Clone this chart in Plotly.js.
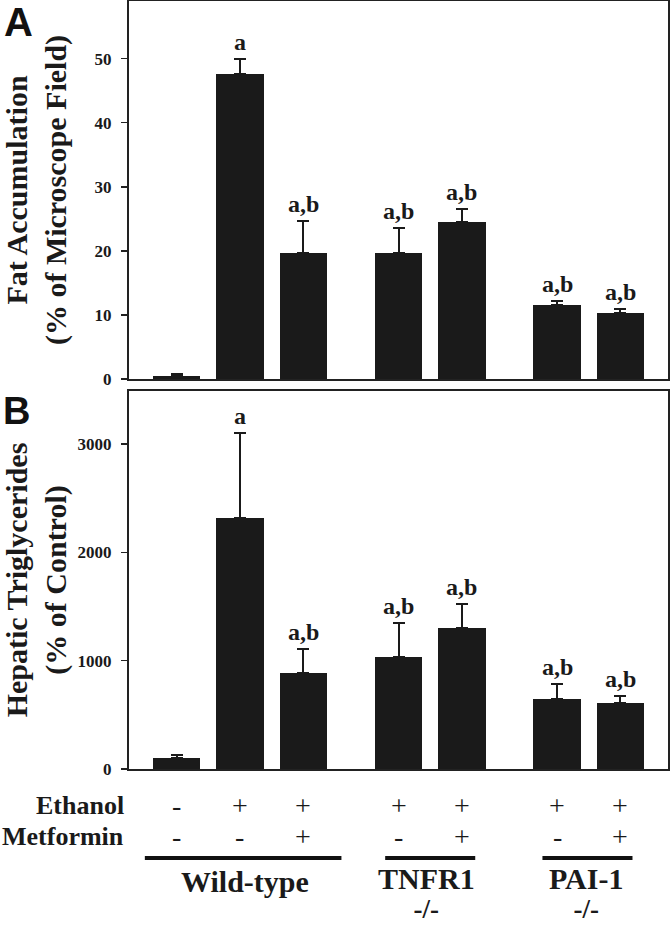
<!DOCTYPE html>
<html><head><meta charset="utf-8">
<script src="https://cdn.plot.ly/plotly-3.0.1.min.js"></script>
<style>html,body{margin:0;padding:0;background:#fff;} #chart{width:670px;height:926px;}</style>
</head><body><div id="chart"></div>
<script>
// ---- data ----
const positions = [0, 1, 2, 3.5, 4.5, 6, 7];
const fatValues = [0.5, 47.6, 19.7, 19.7, 24.5, 11.5, 10.25];
const fatErrors = [0.33, 2.3, 4.9, 3.8, 2.0, 0.6, 0.75];
const fatLabels = ['', 'a', 'a,b', 'a,b', 'a,b', 'a,b', 'a,b'];
const tgValues = [102, 2317, 887, 1035, 1303, 644, 610];
const tgErrors = [25, 783, 219, 310, 219, 139, 68];
const tgLabels = ['', 'a', 'a,b', 'a,b', 'a,b', 'a,b', 'a,b'];
const ethanolSigns = ['-', '+', '+', '+', '+', '+', '+'];
const metforminSigns = ['-', '-', '+', '-', '+', '-', '+'];
const groupNames = ['Wild-type', 'TNFR1', 'PAI-1'];
const groupSubs = ['', '-/-', '-/-'];
const fatTicks = [0, 10, 20, 30, 40, 50];
const tgTicks = [0, 1000, 2000, 3000];

// ---- layout helpers ----
const SERIF = 'Liberation Serif, Times New Roman, serif';
const SANS = 'Liberation Sans, Arial, sans-serif';
const INK = '#1a1a1a';
const groupSpans = [[-0.5, 2.6], [3.29, 4.71], [5.77, 7.19]];
const groupCenters = [1.08, 3.94, 6.46];
const py = p => (769 - p) / 768;       // pixel y -> paper y
const px = p => (p - 129) / 539;       // pixel x -> paper x

function barTrace(vals, errs, xa, ya) {
  return {
    type: 'bar', x: positions, y: vals, xaxis: xa, yaxis: ya, width: 0.75,
    marker: {color: INK, line: {width: 0}},
    error_y: {type: 'data', symmetric: false, array: errs,
              arrayminus: errs.map(() => 0), color: INK, thickness: 2, width: 6},
    showlegend: false, hoverinfo: 'y'
  };
}

const annotations = [];
function addLetters(vals, errs, labels, xr, yr) {
  labels.forEach((t, i) => {
    if (!t) return;
    annotations.push({xref: xr, yref: yr, x: positions[i], y: vals[i] + errs[i],
      text: t, showarrow: false, yanchor: 'bottom', yshift: 2,
      font: {family: SERIF, size: 24, weight: 'bold', color: INK}});
  });
}
addLetters(fatValues, fatErrors, fatLabels, 'x', 'y');
addLetters(tgValues, tgErrors, tgLabels, 'x2', 'y2');

ethanolSigns.forEach((s, i) => annotations.push({xref: 'x2', yref: 'paper', x: positions[i], y: py(805),
  text: s, showarrow: false, yanchor: 'middle', font: {family: SERIF, size: 28, color: INK}}));
metforminSigns.forEach((s, i) => annotations.push({xref: 'x2', yref: 'paper', x: positions[i], y: py(836),
  text: s, showarrow: false, yanchor: 'middle', font: {family: SERIF, size: 28, color: INK}}));
annotations.push({xref: 'paper', yref: 'paper', x: px(126), y: py(805), xanchor: 'right', yanchor: 'middle',
  text: 'Ethanol', showarrow: false, font: {family: SERIF, size: 26, weight: 'bold', color: INK}});
annotations.push({xref: 'paper', yref: 'paper', x: px(126), y: py(836), xanchor: 'right', yanchor: 'middle',
  text: 'Metformin', showarrow: false, font: {family: SERIF, size: 26, weight: 'bold', color: INK}});
groupNames.forEach((g, i) => {
  if (groupSubs[i]) {
    annotations.push({xref: 'x2', yref: 'paper', x: groupCenters[i], y: py(926), yanchor: 'bottom',
      text: '<span style="font-size:30px">' + g + '</span><br><span style="font-size:27px">' + groupSubs[i] + '</span>',
      showarrow: false, font: {family: SERIF, size: 22, weight: 'bold', color: INK}});
  } else {
    annotations.push({xref: 'x2', yref: 'paper', x: groupCenters[i], y: py(881), yanchor: 'middle',
      text: g, showarrow: false, font: {family: SERIF, size: 30, weight: 'bold', color: INK}});
  }
});
annotations.push({xref: 'paper', yref: 'paper', x: px(18), y: py(22), xanchor: 'center', yanchor: 'middle',
  text: 'A', showarrow: false, font: {family: SANS, size: 40, weight: 'bold', color: '#111'}});
annotations.push({xref: 'paper', yref: 'paper', x: px(17), y: py(411), xanchor: 'center', yanchor: 'middle',
  text: 'B', showarrow: false, font: {family: SANS, size: 38, weight: 'bold', color: '#111'}});

const shapes = groupSpans.map(s => ({type: 'line', xref: 'x2', yref: 'paper', x0: s[0], x1: s[1],
  y0: py(858), y1: py(858), line: {color: '#111', width: 4}}));

function yax(domain, range, ticks, title, standoff) {
  return {domain: domain, range: range, tickvals: ticks, ticks: 'outside', ticklen: 6, tickwidth: 1.5,
    tickcolor: '#222', showline: true, mirror: true, linewidth: 2, linecolor: '#222',
    showgrid: false, zeroline: false, ticklabelstandoff: 6, automargin: false,
    tickfont: {family: SERIF, size: 17, weight: 'bold', color: INK},
    title: {text: title, standoff: standoff, font: {family: SERIF, size: 30, weight: 'bold', color: INK}}};
}
function xax(anchor) {
  return {range: [-0.75, 7.75], anchor: anchor, showticklabels: false, ticks: '', showline: true,
    mirror: true, linewidth: 2, linecolor: '#222', showgrid: false, zeroline: false};
}

const layout = {
  width: 670, height: 926, paper_bgcolor: '#fff', plot_bgcolor: '#fff',
  margin: {l: 129, r: 2, t: 1, b: 157},
  xaxis: xax('y'), yaxis: yax([0.5078, 1], [0, 59], fatTicks, 'Fat Accumulation<br>(% of Microscope Field)', 20),
  xaxis2: xax('y2'), yaxis2: yax([0, 0.4922], [0, 3490], tgTicks, 'Hepatic Triglycerides<br>(% of Control)', 12),
  annotations: annotations, shapes: shapes, bargap: 0
};

Plotly.newPlot('chart', [barTrace(fatValues, fatErrors, 'x', 'y'), barTrace(tgValues, tgErrors, 'x2', 'y2')],
  layout, {displayModeBar: false, staticPlot: true});
</script></body></html>
